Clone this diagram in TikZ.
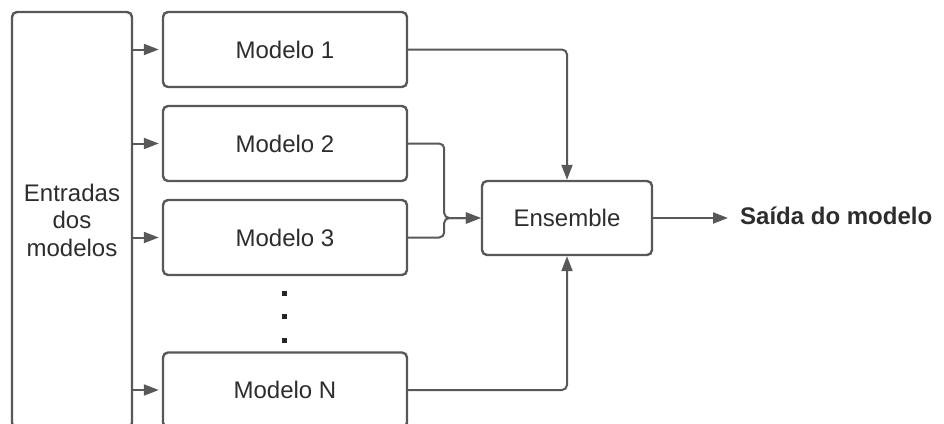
\documentclass[tikz,border=0pt]{standalone}
\usepackage{fontspec}
\setmainfont{Liberation Sans}
\usetikzlibrary{calc, arrows.meta}
\definecolor{linegray}{RGB}{88,88,88}
\definecolor{textgray}{RGB}{45,45,45}

\begin{document}
\begin{tikzpicture}[x=1pt, y=-1pt,
  box/.style={draw=linegray, line width=2.4pt, rounded corners=5pt, fill=white,
    minimum width=244pt, minimum height=75pt, inner sep=0pt,
    text=textgray, font=\fontsize{24}{27.5}\selectfont},
  conn/.style={draw=linegray, line width=2pt, -{Triangle[length=15pt, width=11pt]}}]
  \useasboundingbox (0,0) rectangle (944,423);
  \clip (0,0) rectangle (944,423);
  % inputs column, runs past the bottom edge
  \node[box, minimum width=120pt, minimum height=416pt, align=center] (inp) at (72,220) {Entradas\\dos\\modelos};
  % the models
  \node[box] (m1) at (285,49.5) {Modelo 1};
  \node[box] (m2) at (285,143.5) {Modelo 2};
  \node[box] (m3) at (285,237.5) {Modelo 3};
  \node[box] (mN) at (285,390) {Modelo N};
  \foreach \y in {293,316,340}
    \fill[black!85] (282,\y-2.5) rectangle ++(5,5);
  \node[box, minimum width=170pt, minimum height=74pt] (ens) at (567,218) {Ensemble};
  \node[anchor=west, inner sep=0pt, text=textgray, font=\fontsize{24}{28}\selectfont\bfseries] (out) at (740,216) {Saída do modelo};
  % inputs -> models
  \foreach \m in {m1,m2,m3,mN}
    \draw[conn, shorten >=3pt] (inp.east |- \m) -- (\m.west);
  % models -> ensemble
  \draw[conn, rounded corners=5pt] (m1.east) -| (ens.north);
  \draw[conn, rounded corners=5pt] (m2.east) -- ++(36,0) |- (ens.west);
  \draw[conn, rounded corners=5pt] (m3.east) -- ++(36,0) |- (ens.west);
  \draw[conn, rounded corners=5pt] (mN.east) -| (ens.south);
  \draw[conn, shorten >=12pt] (ens.east) -- (ens.east -| out.west);
\end{tikzpicture}
\end{document}
